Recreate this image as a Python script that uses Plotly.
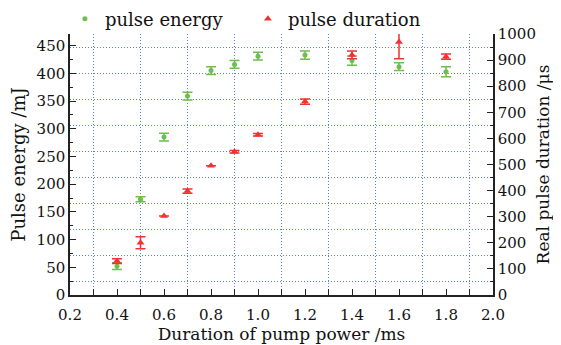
import plotly.graph_objects as go

x_vals = [0.4, 0.5, 0.6, 0.7, 0.8, 0.9, 1.0, 1.2, 1.4, 1.6, 1.8]
energy = [52, 173, 285, 359, 405, 416, 431, 433, 423, 412, 403]
energy_err = [6, 4.5, 7, 7, 7, 7, 7, 7.5, 8.5, 7, 9]
duration = [130, 200, 303, 398, 495, 549, 614, 741, 920, 969, 913]
duration_err = [9, 23, 0, 8, 0, 5, 5, 10, 15, 64, 10]

x_ticks = [0.2, 0.4, 0.6, 0.8, 1.0, 1.2, 1.4, 1.6, 1.8, 2.0]
x_minor = [0.3, 0.5, 0.7, 0.9, 1.1, 1.3, 1.5, 1.7, 1.9]
left_ticks = [0, 50, 100, 150, 200, 250, 300, 350, 400, 450]
left_minor = [25, 75, 125, 175, 225, 275, 325, 375, 425]
right_ticks = [0, 100, 200, 300, 400, 500, 600, 700, 800, 900, 1000]
right_minor = [50, 150, 250, 350, 450, 550, 650, 750, 850, 950]

GREEN = "#6cbf4e"
RED = "#f23232"
GRID = "#5a7ce0"
FONT = "DejaVu Serif"

fig = go.Figure()
fig.add_trace(go.Scatter(
    x=x_vals, y=energy, mode="markers", name="pulse energy",
    marker=dict(symbol="circle", size=5, color=GREEN),
    error_y=dict(type="data", array=energy_err, color=GREEN, thickness=1.5, width=5),
    yaxis="y",
))
fig.add_trace(go.Scatter(
    x=x_vals, y=duration, mode="markers", name="pulse duration",
    marker=dict(symbol="triangle-up", size=7, color=RED),
    error_y=dict(type="data", array=duration_err, color=RED, thickness=1.5, width=5),
    yaxis="y2",
))

axis_common = dict(
    showline=True, linecolor="#222", linewidth=1.5,
    ticks="inside", ticklen=6, tickwidth=1.2, tickcolor="#222",
    tickfont=dict(family=FONT, size=15, color="#111"),
    zeroline=False, showgrid=False, automargin=False,
)

# the page body has an 8px default margin, so the figure is sized to fit the window
fig.update_layout(
    width=553, height=337,
    margin=dict(l=62, r=68, t=26, b=50, autoexpand=False),
    plot_bgcolor="white", paper_bgcolor="white",
    font=dict(family=FONT, color="#111"),
    showlegend=True,
    legend=dict(orientation="h", x=-0.012, y=1.057, xanchor="left", yanchor="middle",
                font=dict(family=FONT, size=18, color="#111"),
                itemwidth=30, entrywidth=138, entrywidthmode="pixels",
                bgcolor="rgba(0,0,0,0)"),
    xaxis=dict(
        range=[0.2, 2.0], tickvals=x_ticks, ticktext=[f"{v:.1f}" for v in x_ticks],
        ticklabelstandoff=5,
        title=dict(text="Duration of pump power /ms", font=dict(family=FONT, size=17), standoff=3),
        minor=dict(tickmode="array", tickvals=x_minor, ticks="inside", ticklen=6, tickcolor="#222",
                   showgrid=True, gridcolor=GRID, griddash="1px,2px", gridwidth=1),
        **axis_common,
    ),
    yaxis=dict(
        range=[0, 471], tickvals=left_ticks,
        title=dict(text="Pulse energy /mJ", font=dict(family=FONT, size=18), standoff=6),
        minor=dict(tickmode="array", tickvals=left_minor, ticks="inside", ticklen=3, tickcolor="#222"),
        **axis_common,
    ),
    yaxis2=dict(
        range=[0, 1000], tickvals=right_ticks, overlaying="y", side="right",
        title=dict(text="Real pulse duration /μs", font=dict(family=FONT, size=17), standoff=2),
        minor=dict(tickmode="array", tickvals=right_minor, ticks="inside", ticklen=3, tickcolor="#222",
                   showgrid=True, gridcolor=GRID, griddash="1px,2px", gridwidth=1),
        **axis_common,
    ),
)

fig.write_html("out.html")
